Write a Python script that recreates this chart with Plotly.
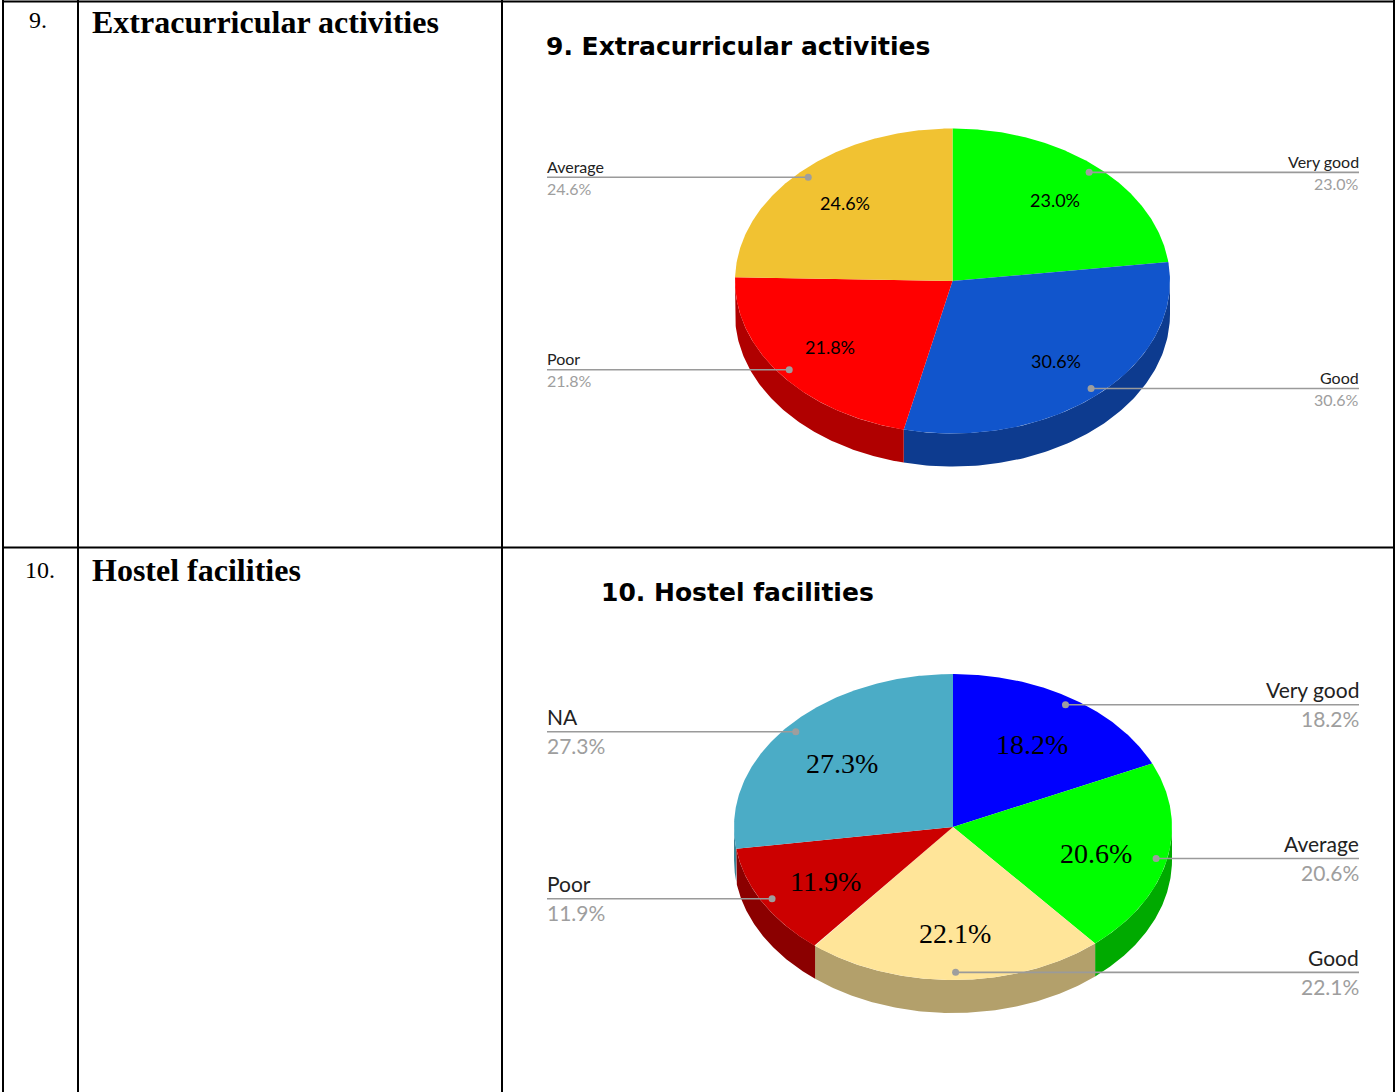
import numpy as np
import plotly.graph_objects as go

# ---------------- data ----------------
row_numbers = ["9.", "10."]
row_titles = ["Extracurricular activities", "Hostel facilities"]
chart_titles = ["9. Extracurricular activities", "10. Hostel facilities"]

c1_labels = ["Very good", "Good", "Poor", "Average"]
c1_values = [23.0, 30.6, 21.8, 24.6]

c2_labels = ["Very good", "Average", "Good", "Poor", "NA"]
c2_values = [18.2, 20.6, 22.1, 11.9, 27.3]

# ---------------- styles ----------------
c1_top = ["#00FF00", "#1155CC", "#FF0000", "#F1C232"]
c1_side = ["#00B000", "#0D3B8F", "#B00000", "#B8922A"]
c2_top = ["#0000FF", "#00FF00", "#FFE599", "#CC0000", "#4BACC6"]
c2_side = ["#0000AA", "#00AA00", "#B3A06B", "#8B0000", "#3A8499"]

W, H = 1396, 1092
fig = go.Figure()
annotations = []


def ell(cx, cy, rx, ry, th):
    return cx + rx * np.sin(th), cy - ry * np.cos(th)


def pie3d(labels, values, tops, sides, cx, cy, rx, ry, depth,
          in_font, in_frac, in_dy, out_size, line_off_up, line_off_dn):
    total = float(sum(values))
    fr = np.cumsum([0] + list(values)) / total
    angs = fr * 2 * np.pi
    # side walls (visible front half: theta in [pi/2, 3pi/2])
    for i in range(len(values)):
        a0, a1 = angs[i], angs[i + 1]
        s0, s1 = max(a0, np.pi / 2), min(a1, 3 * np.pi / 2)
        if s1 > s0:
            th = np.linspace(s0, s1, 120)
            x, y = ell(cx, cy, rx, ry, th)
            xs = np.concatenate([x, x[::-1]])
            ys = np.concatenate([y, (y + depth)[::-1]])
            fig.add_trace(go.Scatter(x=xs, y=ys, fill="toself", mode="lines",
                                     fillcolor=sides[i], line=dict(width=0),
                                     hoverinfo="skip", showlegend=False))
    # top faces
    for i in range(len(values)):
        a0, a1 = angs[i], angs[i + 1]
        th = np.linspace(a0, a1, 200)
        x, y = ell(cx, cy, rx, ry, th)
        xs = np.concatenate([[cx], x, [cx]])
        ys = np.concatenate([[cy], y, [cy]])
        fig.add_trace(go.Scatter(x=xs, y=ys, fill="toself", mode="lines",
                                 fillcolor=tops[i], line=dict(width=0),
                                 hoverinfo="skip", showlegend=False))
    # labels
    for i, (lab, v) in enumerate(zip(labels, values)):
        mid = (angs[i] + angs[i + 1]) / 2
        pct = f"{v / total * 100:.1f}%"
        lx, ly = ell(cx, cy, in_frac * rx, in_frac * ry, mid)
        annotations.append(dict(x=lx, y=ly + in_dy, text=pct, showarrow=False,
                                xanchor="center", yanchor="middle",
                                font=in_font))
        dx, dy = ell(cx, cy, 0.95 * rx, 0.95 * ry, mid)
        left = dx < cx
        ex = 547 if left else 1359
        tx = ex - 2 if left else ex + 2
        fig.add_trace(go.Scatter(x=[ex, dx], y=[dy, dy], mode="lines",
                                 line=dict(color="#9A9A9A", width=1.6),
                                 hoverinfo="skip", showlegend=False))
        fig.add_trace(go.Scatter(x=[dx], y=[dy], mode="markers",
                                 marker=dict(color="#9E9E9E", size=7),
                                 hoverinfo="skip", showlegend=False))
        anc = "left" if left else "right"
        annotations.append(dict(x=tx, y=dy - line_off_up, text=lab, showarrow=False,
                                xanchor=anc, yanchor="middle",
                                font=dict(family="Lato, Open Sans, sans-serif",
                                          size=out_size, color="#222222")))
        annotations.append(dict(x=tx, y=dy + line_off_dn, text=pct, showarrow=False,
                                xanchor=anc, yanchor="middle",
                                font=dict(family="Lato, Open Sans, sans-serif",
                                          size=out_size, color="#9E9E9E")))


pie3d(c1_labels, c1_values, c1_top, c1_side, 952.5, 281, 217.5, 152.5, 33,
      dict(family="Lato, Open Sans, sans-serif", size=18, color="#000000"), 0.71, 0,
      16, 11, 11)
pie3d(c2_labels, c2_values, c2_top, c2_side, 953, 827, 219, 153, 33,
      dict(family="Liberation Serif, Times New Roman, serif", size=28, color="#000000"), 0.67, 4,
      21, 15, 14)

# titles inside chart cells
title_font = dict(family="Comic Sans MS, DejaVu Sans, sans-serif", size=25, color="#000000")
annotations.append(dict(x=544, y=46, text="<b>" + chart_titles[0] + "</b>", showarrow=False,
                        xanchor="left", yanchor="middle", font=title_font))
annotations.append(dict(x=599, y=592, text="<b>" + chart_titles[1] + "</b>", showarrow=False,
                        xanchor="left", yanchor="middle", font=title_font))

# table text
num_font = dict(family="Liberation Serif, Times New Roman, serif", size=24, color="#000000")
row_font = dict(family="Liberation Serif, Times New Roman, serif", size=32, color="#000000")
annotations.append(dict(x=38, y=20, text=row_numbers[0], showarrow=False,
                        xanchor="center", yanchor="middle", font=num_font))
annotations.append(dict(x=40, y=570, text=row_numbers[1], showarrow=False,
                        xanchor="center", yanchor="middle", font=num_font))
annotations.append(dict(x=90, y=22, text="<b>" + row_titles[0] + "</b>", showarrow=False,
                        xanchor="left", yanchor="middle", font=row_font))
annotations.append(dict(x=90, y=570, text="<b>" + row_titles[1] + "</b>", showarrow=False,
                        xanchor="left", yanchor="middle", font=row_font))

# table grid lines
shapes = []
for xv in [3, 78, 502, 1394]:
    shapes.append(dict(type="line", xref="x", yref="y", x0=xv, x1=xv, y0=0, y1=H,
                       line=dict(color="#000000", width=2)))
for yv in [1.5, 547.5]:
    shapes.append(dict(type="line", xref="x", yref="y", x0=2, x1=1395, y0=yv, y1=yv,
                       line=dict(color="#000000", width=2)))

fig.update_layout(
    width=W, height=H, autosize=False,
    margin=dict(l=0, r=0, t=0, b=0, pad=0),
    paper_bgcolor="#FFFFFF", plot_bgcolor="#FFFFFF",
    xaxis=dict(range=[0, W], visible=False, fixedrange=True),
    yaxis=dict(range=[H, 0], visible=False, fixedrange=True),
    annotations=annotations, shapes=shapes,
    showlegend=False,
)

fig.write_html("out.html", config={"displayModeBar": False, "staticPlot": True},
               post_script="document.body.style.margin='0px';document.body.style.overflow='hidden';")
